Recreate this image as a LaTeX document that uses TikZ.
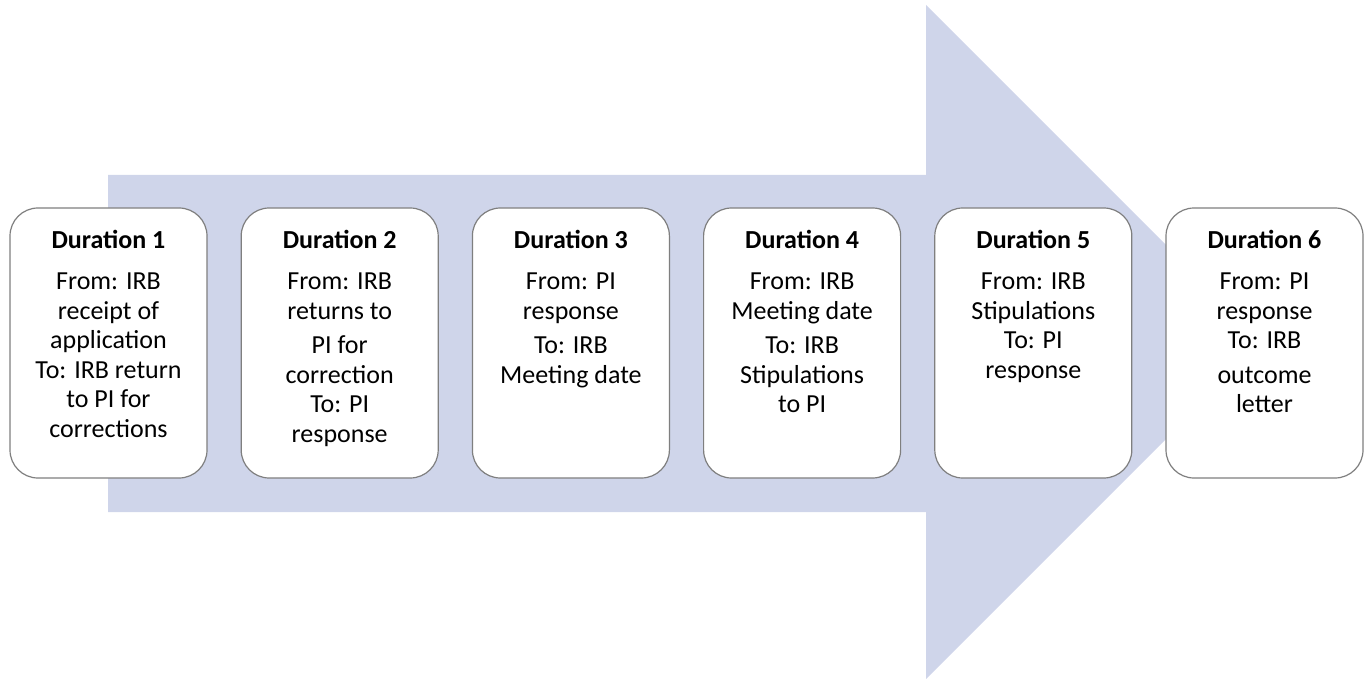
\documentclass[tikz,border=0pt]{standalone}
\usepackage{fontspec}
\setmainfont{Carlito}
\usepackage{xcolor}
\usetikzlibrary{positioning}
\definecolor{ArrowLavender}{HTML}{CFD5EA}
\definecolor{BoxGray}{HTML}{7F7F7F}

\tikzset{
  durbox/.style={draw=BoxGray, line width=1.2pt, fill=white, rounded corners=28pt,
    minimum width=197pt, minimum height=270pt, inner sep=0pt},
  durtext/.style={anchor=north, align=center, inner sep=0pt,
    font=\fontsize{26}{29.5}\selectfont},
}

\begin{document}
\begin{tikzpicture}[x=1pt, y=-1pt]
        \useasboundingbox (0,0) rectangle (1371,679);

        % big arrow behind the boxes
        \fill [ArrowLavender] (108,175) -- (926,175) -- (926,5) -- (1263,342)
              -- (926,679) -- (926,512) -- (108,512) -- cycle;

        \node[durbox] (d1) at (108.5,343) {};
        \node[durbox, right=33pt of d1] (d2) {};
        \node[durbox, right=33pt of d2] (d3) {};
        \node[durbox, right=33pt of d3] (d4) {};
        \node[durbox, right=33pt of d4] (d5) {};
        \node[durbox, right=33pt of d5] (d6) {};

        \node[durtext] (t1) at ([yshift=-23pt]d1.north) {\textbf{Duration 1}\\[11.5pt]
              From: IRB\\ receipt of\\ application\\ To: IRB return\\ to PI for\\ corrections};
        \node[durtext] (t2) at ([yshift=-23pt]d2.north) {\textbf{Duration 2}\\[11.5pt]
              From: IRB\\ returns to\\[5pt] PI for\\ correction\\ To: PI\\ response};
        \node[durtext] (t3) at ([yshift=-23pt]d3.north) {\textbf{Duration 3}\\[11.5pt]
              From: PI\\ response\\[5pt] To: IRB\\ Meeting date};
        \node[durtext] (t4) at ([yshift=-23pt]d4.north) {\textbf{Duration 4}\\[11.5pt]
              From: IRB\\ Meeting date\\[5pt] To: IRB\\ Stipulations\\ to PI};
        \node[durtext] (t5) at ([yshift=-23pt]d5.north) {\textbf{Duration 5}\\[11.5pt]
              From: IRB\\ Stipulations\\ To: PI\\ response};
        \node[durtext] (t6) at ([yshift=-23pt]d6.north) {\textbf{Duration 6}\\[11.5pt]
              From: PI\\ response\\ To: IRB\\[5pt] outcome\\ letter};
    \end{tikzpicture}
\end{document}
